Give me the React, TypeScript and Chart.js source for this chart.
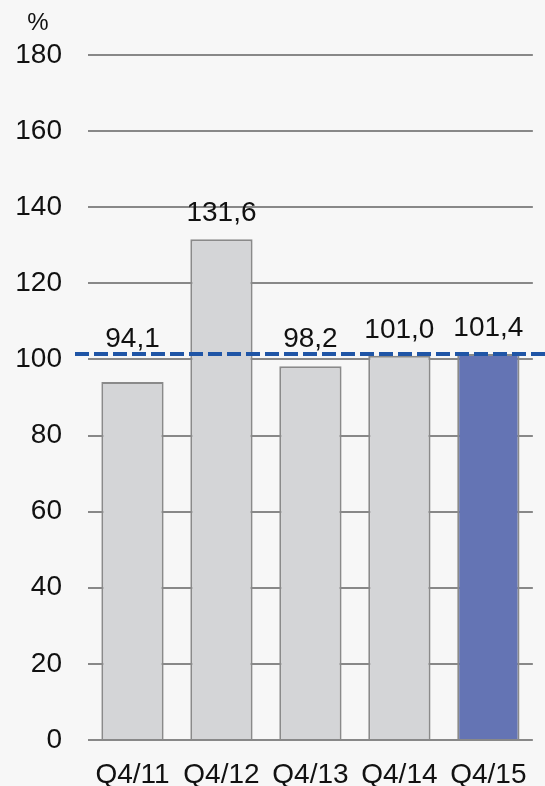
import React, { useEffect, useRef } from "react";
import { Chart, registerables } from "chart.js";

Chart.register(...registerables);

const categories = ["Q4/11", "Q4/12", "Q4/13", "Q4/14", "Q4/15"];
const values = [94.1, 131.6, 98.2, 101.0, 101.4];
const valueLabels = ["94,1", "131,6", "98,2", "101,0", "101,4"];
const barColors = ["#d4d5d7", "#d4d5d7", "#d4d5d7", "#d4d5d7", "#6474b4"];
const referenceValue = 101.4;
const unitLabel = "%";
const yMin = 0;
const yMax = 180;
const yStep = 20;

const FONT = "'Liberation Sans', Arial, sans-serif";

const overlayPlugin = {
  id: "overlay",
  afterDatasetsDraw(chart: any) {
    const { ctx, chartArea, scales } = chart;
    const yS = scales.y;
    const refY = yS.getPixelForValue(referenceValue);
    // dashed reference line
    ctx.save();
    ctx.strokeStyle = "#1f55a6";
    ctx.lineWidth = 4;
    ctx.setLineDash([14, 5]);
    ctx.beginPath();
    ctx.moveTo(chartArea.left - 13, refY);
    ctx.lineTo(chart.width, refY);
    ctx.stroke();
    ctx.restore();

    // value labels
    const meta = chart.getDatasetMeta(0);
    ctx.save();
    ctx.font = `28px ${FONT}`;
    ctx.fillStyle = "#111111";
    ctx.textAlign = "center";
    ctx.textBaseline = "alphabetic";
    meta.data.forEach((bar: any, i: number) => {
      const y = Math.min(bar.y - 18, refY - 7);
      ctx.fillText(valueLabels[i], bar.x, y);
    });
    // unit label
    ctx.font = `24px ${FONT}`;
    ctx.textBaseline = "middle";
    ctx.fillText(unitLabel, chartArea.left - 50, chartArea.top - 32);
    ctx.restore();
  },
};

export default function App() {
  const ref = useRef<HTMLCanvasElement>(null);
  useEffect(() => {
    if (!ref.current) return;
    const chart = new Chart(ref.current, {
      type: "bar",
      data: {
        labels: categories,
        datasets: [
          {
            data: values,
            backgroundColor: barColors,
            borderColor: "#8a8a8a",
            borderWidth: 2,
            borderSkipped: "start",
            barPercentage: 0.7,
            categoryPercentage: 1,
          },
        ],
      },
      options: {
        responsive: false,
        animation: false,
        layout: { padding: { top: 55, right: 5, left: 0, bottom: 0 } },
        plugins: {
          legend: { display: false },
          tooltip: { enabled: false },
        },
        scales: {
          x: {
            grid: { display: false, drawTicks: false },
            border: { display: false },
            ticks: {
              color: "#111111",
              font: { family: FONT, size: 28 },
              padding: 18,
              maxRotation: 0,
              autoSkip: false,
            },
            afterFit: (s: any) => {
              s.height = 46;
            },
          },
          y: {
            min: yMin,
            max: yMax,
            grid: { color: "#888888", lineWidth: 2, drawTicks: false },
            border: { display: false },
            ticks: {
              stepSize: yStep,
              color: "#111111",
              font: { family: FONT, size: 28 },
              padding: 26,
            },
            afterFit: (s: any) => {
              s.width = 88;
            },
          },
        },
      },
      plugins: [overlayPlugin],
    });
    return () => chart.destroy();
  }, []);
  return (
    <div
      style={{
        position: "fixed",
        left: 0,
        top: 0,
        width: 545,
        height: 786,
        background: "#f7f7f7",
      }}
    >
      <canvas ref={ref} width={545} height={786} />
    </div>
  );
}
